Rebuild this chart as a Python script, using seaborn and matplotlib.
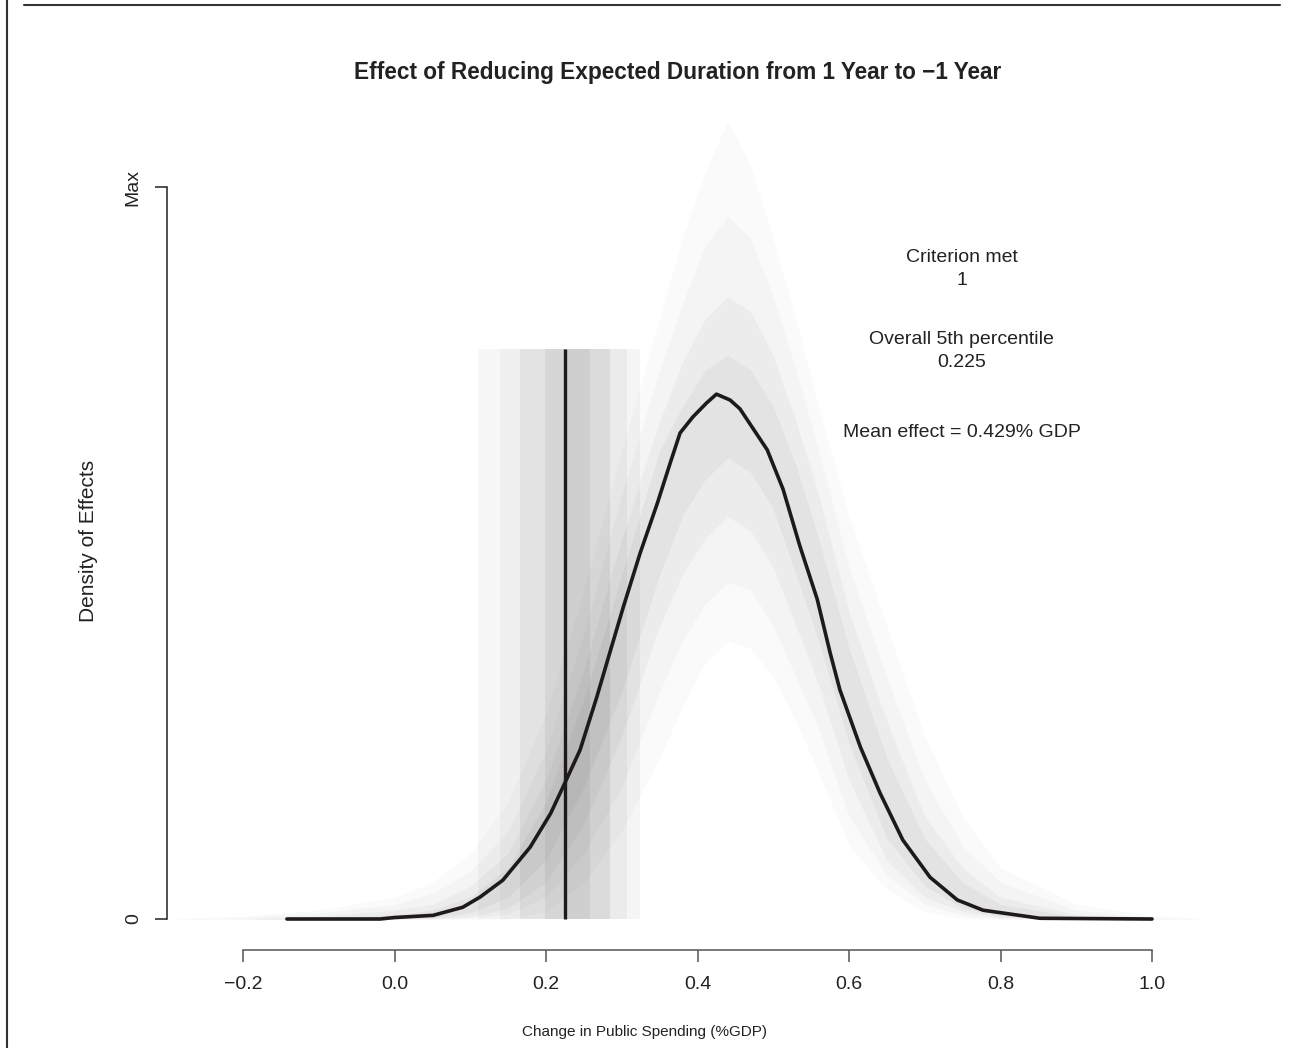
import numpy as np
import pandas as pd
import seaborn as sns
import matplotlib
matplotlib.use("Agg")
import matplotlib.pyplot as plt
from matplotlib.lines import Line2D

# ---------------- data ----------------
# main (pooled) density curve, y scaled so that 1 = "Max"
curve_x = [-0.142, -0.019, 0.000, 0.051, 0.090, 0.113, 0.143, 0.179, 0.206, 0.225,
           0.245, 0.267, 0.284, 0.302, 0.324, 0.347, 0.364, 0.377, 0.394, 0.412,
           0.425, 0.443, 0.456, 0.492, 0.513, 0.535, 0.558, 0.575, 0.588, 0.615,
           0.641, 0.671, 0.707, 0.743, 0.777, 0.852, 1.000]
curve_y = [0.000, 0.000, 0.002, 0.005, 0.016, 0.030, 0.053, 0.098, 0.144, 0.186,
           0.231, 0.303, 0.363, 0.426, 0.499, 0.568, 0.623, 0.664, 0.686, 0.705,
           0.717, 0.709, 0.697, 0.641, 0.587, 0.510, 0.437, 0.364, 0.313, 0.235,
           0.172, 0.108, 0.057, 0.026, 0.012, 0.001, 0.000]

# envelopes of the simulated densities (grey cloud), nested bands
cloud_x = [-0.30, -0.20, -0.10, 0.00, 0.05, 0.10, 0.15, 0.20, 0.25, 0.30, 0.35, 0.38, 0.41,
           0.44, 0.47, 0.50, 0.53, 0.56, 0.60, 0.65, 0.70, 0.75, 0.80, 0.90, 1.00, 1.07]
outer_hi = [0.000, 0.004, 0.012, 0.030, 0.050, 0.090, 0.160, 0.280, 0.450, 0.640, 0.820, 0.930, 1.020,
            1.090, 1.030, 0.930, 0.820, 0.700, 0.550, 0.400, 0.250, 0.140, 0.070, 0.020, 0.005, 0.000]
outer_lo = [0.000, 0.000, 0.000, 0.000, 0.000, 0.000, 0.000, 0.010, 0.050, 0.120, 0.220, 0.290, 0.350,
            0.380, 0.370, 0.330, 0.270, 0.200, 0.100, 0.040, 0.010, 0.000, 0.000, 0.000, 0.000, 0.000]
mid_hi = [0.000, 0.002, 0.008, 0.020, 0.035, 0.065, 0.120, 0.230, 0.390, 0.580, 0.750, 0.840, 0.920,
          0.960, 0.930, 0.850, 0.750, 0.640, 0.480, 0.330, 0.190, 0.100, 0.050, 0.012, 0.002, 0.000]
mid_lo = [0.000, 0.000, 0.000, 0.000, 0.000, 0.001, 0.007, 0.030, 0.090, 0.180, 0.310, 0.380, 0.430,
          0.460, 0.450, 0.400, 0.330, 0.260, 0.140, 0.060, 0.020, 0.005, 0.000, 0.000, 0.000, 0.000]
inner_hi = [0.000, 0.000, 0.004, 0.012, 0.020, 0.045, 0.090, 0.190, 0.340, 0.520, 0.680, 0.760, 0.820,
            0.850, 0.830, 0.770, 0.680, 0.580, 0.420, 0.270, 0.140, 0.070, 0.030, 0.006, 0.000, 0.000]
inner_lo = [0.000, 0.000, 0.000, 0.000, 0.000, 0.003, 0.015, 0.050, 0.130, 0.250, 0.400, 0.470, 0.520,
            0.550, 0.530, 0.480, 0.400, 0.320, 0.190, 0.080, 0.030, 0.010, 0.002, 0.000, 0.000, 0.000]
core_hi = [0.000, 0.000, 0.002, 0.006, 0.012, 0.030, 0.070, 0.160, 0.300, 0.470, 0.640, 0.700, 0.750,
           0.770, 0.750, 0.700, 0.620, 0.520, 0.370, 0.220, 0.110, 0.050, 0.020, 0.003, 0.000, 0.000]
core_lo = [0.000, 0.000, 0.000, 0.000, 0.001, 0.008, 0.030, 0.080, 0.180, 0.310, 0.470, 0.550, 0.600,
           0.630, 0.610, 0.560, 0.470, 0.380, 0.240, 0.110, 0.045, 0.015, 0.004, 0.000, 0.000, 0.000]

# distribution of 5th percentiles (vertical grey strip)
strip_edges = [0.110, 0.139, 0.166, 0.199, 0.225, 0.258, 0.284, 0.307, 0.324]
strip_grey = [0.97, 0.94, 0.89, 0.84, 0.81, 0.86, 0.92, 0.96]
strip_top = 0.779

pct5 = 0.225
mean_effect = 0.429
criterion = 1

x_ticks = [-0.2, 0.0, 0.2, 0.4, 0.6, 0.8, 1.0]
x_tick_labels = ["\u22120.2", "0.0", "0.2", "0.4", "0.6", "0.8", "1.0"]
y_ticks = [0, 1]
y_tick_labels = ["0", "Max"]

title = "Effect of Reducing Expected Duration from 1 Year to \u22121 Year"
xlabel = "Change in Public Spending (%GDP)"
ylabel = "Density of Effects"

# ---------------- style ----------------
sns.set_style("ticks")
plt.rcParams["font.family"] = ["Liberation Sans", "DejaVu Sans"]
FS = 14

W, H = 1290, 1048
fig = plt.figure(figsize=(W / 100, H / 100), dpi=100)

# axes in pixel geometry
ax_l, ax_r, ax_t, ax_b = 167, 1230, 100, 950
ax = fig.add_axes([ax_l / W, 1 - ax_b / H, (ax_r - ax_l) / W, (ax_b - ax_t) / H])

px_per_x = (1152 - 243) / 1.2
px_per_y = (919 - 187) / 1.0
xmin = -0.2 - (243 - ax_l) / px_per_x
xmax = 1.0 + (ax_r - 1152) / px_per_x
ymin = -(ax_b - 919) / px_per_y
ymax = (919 - ax_t) / px_per_y
ax.set_xlim(xmin, xmax)
ax.set_ylim(ymin, ymax)

# vertical strip of 5th percentiles
widths = [strip_edges[i + 1] - strip_edges[i] for i in range(len(strip_grey))]
ax.bar(strip_edges[:-1], [strip_top] * len(strip_grey), width=widths, align="edge",
       color=[(g, g, g) for g in strip_grey], linewidth=0, zorder=1)

# grey cloud of simulated densities
for lo, hi, a in [(outer_lo, outer_hi, 0.018), (mid_lo, mid_hi, 0.025),
                  (inner_lo, inner_hi, 0.03), (core_lo, core_hi, 0.035)]:
    ax.fill_between(cloud_x, lo, hi, color="black", alpha=a, linewidth=0, zorder=2)

# main curve
df = pd.DataFrame({"x": curve_x, "y": curve_y})
sns.lineplot(data=df, x="x", y="y", ax=ax, color="#1e1a1b", linewidth=2.6,
             sort=False, estimator=None, zorder=4, solid_joinstyle="round")

# 5th percentile line
ax.plot([pct5, pct5], [0, strip_top], color="#1e1a1b", linewidth=2.4, zorder=5,
        solid_capstyle="butt")

# annotations
tkw = dict(ha="center", va="center", fontsize=FS, color="#222")
ax.text(0.749, 0.904, "Criterion met", **tkw)
ax.text(0.749, 0.872, f"{criterion}", **tkw)
ax.text(0.749, 0.792, "Overall 5th percentile", **tkw)
ax.text(0.749, 0.760, f"{pct5:.3f}", **tkw)
ax.text(0.749, 0.665, f"Mean effect = {mean_effect:.3f}% GDP", **tkw)

# axes styling (R base look)
for s in ["top", "right"]:
    ax.spines[s].set_visible(False)
ax.spines["left"].set_bounds(0, 1)
ax.spines["bottom"].set_bounds(-0.2, 1.0)
ax.spines["left"].set_color("#222")
ax.spines["bottom"].set_color("#555")
ax.spines["left"].set_linewidth(1.1)
ax.spines["bottom"].set_linewidth(1.1)
ax.set_xticks(x_ticks)
ax.set_xticklabels(x_tick_labels)
ax.set_yticks(y_ticks)
ax.set_yticklabels(y_tick_labels, rotation=90, va="center")
ax.tick_params(axis="x", direction="out", length=8.6, width=1.1, color="#555",
               labelsize=FS, pad=10, labelcolor="#222")
ax.tick_params(axis="y", direction="out", length=8.6, width=1.1, color="#222",
               labelsize=FS, pad=9.5, labelcolor="#222")
ax.set_xlabel("")
ax.set_ylabel("")
ax.patch.set_alpha(0)

# titles / labels at pixel positions
fig.text(678 / W, 1 - 72 / H, title, ha="center", va="center", fontsize=16.3,
         fontweight="bold", color="#222")
fig.text(645 / W, 1 - 1032 / H, xlabel, ha="center", va="center", fontsize=11, color="#222")
fig.text(88 / W, 1 - 541 / H, ylabel, ha="center", va="center", rotation=90,
         fontsize=15, color="#222")

# outer frame lines
fig.add_artist(Line2D([24 / W, 1280 / W], [1 - 5 / H, 1 - 5 / H], color="#333", linewidth=1.5))
fig.add_artist(Line2D([7 / W, 7 / W], [0, 1], color="#333", linewidth=1.5))

fig.savefig("out.png", dpi=100)
